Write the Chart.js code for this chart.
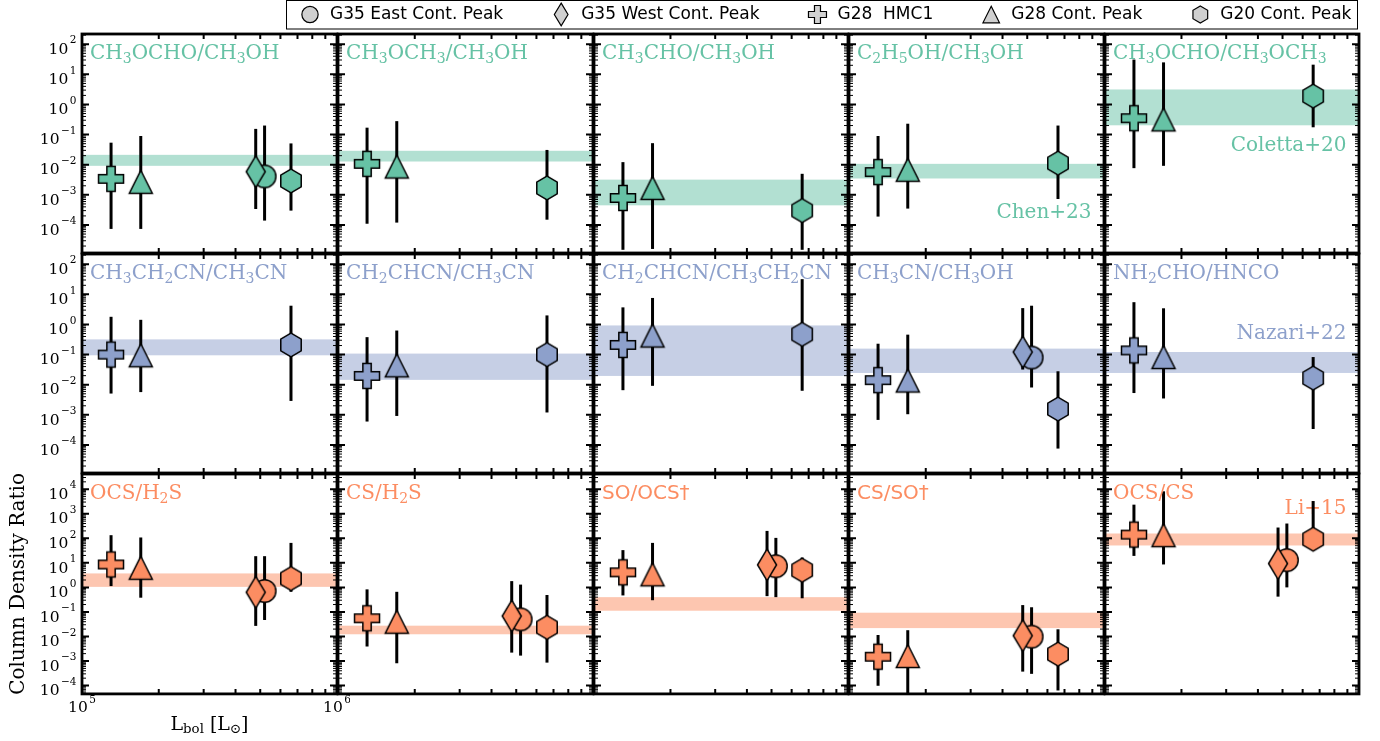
<!DOCTYPE html>
<html>
<head>
<meta charset="utf-8">
<script src="https://cdn.jsdelivr.net/npm/chart.js@4.4.0/dist/chart.umd.min.js"></script>
<style>
  html, body { margin: 0; padding: 0; background: #fff; }
  #fig { position: relative; width: 1380px; height: 741px; overflow: hidden; background: #fff; }
  #fig canvas { position: absolute; }
</style>
</head>
<body>
<div id="fig"></div>
<script>
// ---------------- data ----------------
const sources = ['G35 East Cont. Peak', 'G35 West Cont. Peak', 'G28  HMC1', 'G28 Cont. Peak', 'G20 Cont. Peak'];
const sourceMarkers = ['circle', 'diamond', 'plus', 'triangle', 'hexagon'];
const lbol = [5.2e5, 4.8e5, 1.3e5, 1.7e5, 6.6e5];   // L_bol [L_sun] of each source

const ratioTitles = [
  'CH_3OCHO/CH_3OH', 'CH_3OCH_3/CH_3OH', 'CH_3CHO/CH_3OH', 'C_2H_5OH/CH_3OH', 'CH_3OCHO/CH_3OCH_3',
  'CH_3CH_2CN/CH_3CN', 'CH_2CHCN/CH_3CN', 'CH_2CHCN/CH_3CH_2CN', 'CH_3CN/CH_3OH', 'NH_2CHO/HNCO',
  'OCS/H_2S', 'CS/H_2S', 'SO/OCS\u2020', 'CS/SO\u2020', 'OCS/CS'
];

// column density ratios, one row per ratio, columns follow `sources`
const ratioValue = [
  [4.1e-3, 5.9e-3, 3.4e-3, 2.7e-3, 2.9e-3],
  [null, null, 1.07e-2, 8.7e-3, 1.7e-3],
  [null, null, 7.9e-4, 1.7e-3, 3.0e-4],
  [null, null, 5.7e-3, 6.8e-3, 1.13e-2],
  [null, null, 0.35, 0.32, 1.9],
  [null, null, 0.10, 0.095, 0.21],
  [null, null, 0.0196, 0.044, 0.10],
  [null, null, 0.21, 0.43, 0.47],
  [0.080, 0.122, 0.0142, 0.0138, 1.56e-3],
  [null, null, 0.138, 0.083, 0.0166],
  [0.71, 0.63, 8.6, 6.3, 2.3],
  [0.050, 0.068, 0.055, 0.040, 0.0236],
  [7.3, 8.3, 4.1, 3.4, 5.0],
  [9.8e-3, 0.0108, 1.5e-3, 1.6e-3, 1.9e-3],
  [12.9, 9.4, 142, 134, 92]
];
const ratioLow = [
  [1.4e-4, 3.4e-4, 7.4e-5, 7.4e-5, 3.0e-4],
  [null, null, 1.1e-4, 1.2e-4, 1.5e-4],
  [null, null, 1.5e-5, 1.6e-5, 1.5e-5],
  [null, null, 1.9e-4, 3.5e-4, 7.3e-4],
  [null, null, 7.7e-3, 9.2e-3, 0.175],
  [null, null, 5.1e-3, 5.7e-3, 2.9e-3],
  [null, null, 6.0e-4, 9.2e-4, 1.2e-3],
  [null, null, 6.6e-3, 9.2e-3, 6.3e-3],
  [8.1e-3, 0.032, 6.8e-4, 1.05e-3, 7.6e-5],
  [null, null, 5.3e-3, 3.5e-3, 3.4e-4],
  [0.047, 0.027, 1.13, 0.38, 0.66],
  [1.66e-3, 2.2e-3, 3.9e-3, 8.1e-4, 8.6e-4],
  [0.40, 0.44, 0.47, 0.30, 0.36],
  [3.0e-4, 3.7e-4, 9.8e-5, 3.0e-5, 6.3e-5],
  [1.0, 0.42, 19.2, 8.6, 45]
];
const ratioHigh = [
  [0.20, 0.155, 0.054, 0.090, 0.051],
  [null, null, 0.17, 0.28, 0.031],
  [null, null, 0.0122, 0.052, 5.0e-3],
  [null, null, 0.090, 0.23, 0.20],
  [null, null, 31, 25, 21],
  [null, null, 1.8, 1.43, 4.2],
  [null, null, 0.38, 0.63, 2.0],
  [null, null, 3.7, 7.6, 32],
  [4.2, 3.5, 0.23, 0.46, 0.028],
  [null, null, 5.5, 3.45, 0.083],
  [18.7, 18.7, 134, 108, 65],
  [1.3, 1.8, 0.83, 0.66, 0.49],
  [104, 200, 33, 65, 16.5],
  [0.155, 0.19, 0.0115, 0.018, 0.0196],
  [400, 275, 2350, 8200, 3300]
];

// literature ranges shown as horizontal bands
const bandLow  = [9.2e-3, 0.0128, 4.5e-4, 3.5e-3, 0.204, 0.095, 0.0145, 0.0196, 0.0246, 0.0246, 1.05, 0.0123, 0.112, 0.022, 51];
const bandHigh = [0.0213, 0.029, 3.2e-3, 0.0107, 3.15, 0.32, 0.108, 0.93, 0.158, 0.122, 3.7, 0.0275, 0.40, 0.093, 157];

const refLabels = ['Chen+23', 'Coletta+20', 'Nazari+22', 'Li+15'];
const refPanels = [3, 4, 9, 14];

const yTickExpComs = [2, 1, 0, -1, -2, -3, -4];
const yTickExpSulphur = [4, 3, 2, 1, 0, -1, -2, -3, -4];
const xTickExps = [5, 6];
const xMinorMultipliers = [2, 3, 4, 5, 6, 7, 8, 9];

// ---------------- styling / layout ----------------
const rowColours = ['#66c2a5', '#8da0cb', '#fc8d62'];
const rowBands = ['rgba(102,194,165,0.5)', 'rgba(141,160,203,0.5)', 'rgba(252,141,98,0.5)'];
const rowLogLimits = [[-4.93, 2.34], [-4.93, 2.34], [-4.34, 4.62]];
const titleSans = [false, false, false, false, false, false, false, false, false, false, false, false, true, true, false];
const refBaselineOffset = [184, 117, 85, 40];
const drawOrder = [1, 0, 2, 3, 4];   // lower numbers drawn on top

const GRID = { x0: 82, y0: 33.3, w: 255.6, h: 220.2 };
const SERIF = '"DejaVu Serif", serif';
const SANS = '"DejaVu Sans", sans-serif';

// ---------------- marker shapes ----------------
function markerPath(g, kind, s) {
  g.beginPath();
  if (kind === 'circle') {
    g.arc(0, 0, 11.3 * s, 0, Math.PI * 2);
  } else if (kind === 'diamond') {
    const hw = 9.5 * s, hh = 15.8 * s;
    g.moveTo(0, -hh); g.lineTo(hw, 0); g.lineTo(0, hh); g.lineTo(-hw, 0);
  } else if (kind === 'plus') {
    const a = 12.5 * s, b = a / 3;
    const pts = [[-b, -a], [b, -a], [b, -b], [a, -b], [a, b], [b, b], [b, a], [-b, a], [-b, b], [-a, b], [-a, -b], [-b, -b]];
    pts.forEach((p, i) => i ? g.lineTo(p[0], p[1]) : g.moveTo(p[0], p[1]));
  } else if (kind === 'triangle') {
    const r = 11.5 * s;
    g.moveTo(0, -r); g.lineTo(r, r); g.lineTo(-r, r);
  } else if (kind === 'hexagon') {
    const R = 11.8 * s;
    for (let i = 0; i < 6; i++) {
      const a = (-90 + 60 * i) * Math.PI / 180;
      i ? g.lineTo(R * Math.cos(a), R * Math.sin(a)) : g.moveTo(R * Math.cos(a), R * Math.sin(a));
    }
  }
  g.closePath();
}
function paintMarker(g, kind, fill, s, lw) {
  markerPath(g, kind, s);
  g.fillStyle = fill; g.fill();
  g.lineWidth = lw; g.strokeStyle = '#000'; g.lineJoin = 'miter'; g.stroke();
}
const markerCache = {};
function markerImage(kind, fill) {
  const key = kind + fill;
  if (!markerCache[key]) {
    const c = document.createElement('canvas');
    c.width = 48; c.height = 48;
    const g = c.getContext('2d');
    g.translate(24, 24);
    paintMarker(g, kind, fill, 1, 1.5);
    markerCache[key] = c;
  }
  return markerCache[key];
}

// ---------------- text helpers ----------------
function parseRich(str) {
  const segs = []; let buf = '', i = 0;
  while (i < str.length) {
    if (str[i] === '_') {
      if (buf) { segs.push({ t: buf, sub: false }); buf = ''; }
      let t;
      if (str[i + 1] === '{') { const j = str.indexOf('}', i); t = str.slice(i + 2, j); i = j + 1; }
      else { t = str[i + 1]; i += 2; }
      segs.push({ t, sub: true });
    } else { buf += str[i]; i++; }
  }
  if (buf) segs.push({ t: buf, sub: false });
  return segs;
}
function drawRich(g, str, x, y, size, family, align) {
  const segs = parseRich(str);
  const subSize = size * 0.7;
  let total = 0;
  segs.forEach(sg => {
    g.font = (sg.sub ? subSize : size) + 'px ' + family;
    sg.w = g.measureText(sg.t).width;
    total += sg.w;
  });
  let cx = align === 'center' ? x - total / 2 : (align === 'right' ? x - total : x);
  g.textAlign = 'left'; g.textBaseline = 'alphabetic';
  segs.forEach(sg => {
    g.font = (sg.sub ? subSize : size) + 'px ' + family;
    g.fillText(sg.t, cx, sg.sub ? y + 3.5 : y);
    cx += sg.w;
  });
}
function drawPow(g, exp, x, baseline, align, raise) {
  const baseFont = '15.5px ' + SERIF, supFont = '10.5px ' + SERIF;
  const es = exp < 0 ? '\u2212' + (-exp) : String(exp);
  g.font = baseFont; const wb = g.measureText('10').width;
  g.font = supFont; const we = g.measureText(es).width;
  const total = wb + 1.5 + we;
  const x0 = align === 'right' ? x - total : x - total / 2;
  g.fillStyle = '#000'; g.textAlign = 'left'; g.textBaseline = 'alphabetic';
  g.font = baseFont; g.fillText('10', x0, baseline);
  g.font = supFont; g.fillText(es, x0 + wb + 1.5, baseline - raise);
}

// ---------------- per-panel drawing plugin ----------------
const panelDecor = {
  id: 'panelDecor',
  beforeDatasetsDraw(chart) {
    const p = chart.options.plugins.panelDecor.panel;
    const row = Math.floor(p / 5);
    const g = chart.ctx, ca = chart.chartArea;
    const xs = chart.scales.x, ys = chart.scales.y;
    g.save();
    g.beginPath(); g.rect(ca.left, ca.top, ca.right - ca.left, ca.bottom - ca.top); g.clip();
    // literature band
    const yb1 = ys.getPixelForValue(bandHigh[p]), yb2 = ys.getPixelForValue(bandLow[p]);
    g.fillStyle = rowBands[row];
    g.fillRect(ca.left, yb1, ca.right - ca.left, yb2 - yb1);
    // reference label
    const ri = refPanels.indexOf(p);
    if (ri >= 0) {
      g.fillStyle = rowColours[row];
      g.font = '20px ' + SERIF; g.textAlign = 'right'; g.textBaseline = 'alphabetic';
      g.fillText(refLabels[ri], ca.right - 12.5, ca.top + refBaselineOffset[ri]);
    }
    // error bars
    g.strokeStyle = '#000'; g.lineWidth = 3; g.lineCap = 'butt';
    for (let s = 0; s < sources.length; s++) {
      if (ratioValue[p][s] == null) continue;
      const x = xs.getPixelForValue(lbol[s]);
      g.beginPath();
      g.moveTo(x, ys.getPixelForValue(ratioLow[p][s]));
      g.lineTo(x, ys.getPixelForValue(ratioHigh[p][s]));
      g.stroke();
    }
    g.restore();
  },
  afterDraw(chart) {
    const p = chart.options.plugins.panelDecor.panel;
    const row = Math.floor(p / 5), col = p % 5;
    const g = chart.ctx, ca = chart.chartArea;
    const xs = chart.scales.x, ys = chart.scales.y;
    g.save();
    // title
    g.fillStyle = rowColours[row];
    drawRich(g, ratioTitles[p], ca.left + 8, ca.top + 25, 20, titleSans[p] ? SANS : SERIF, 'left');
    // ticks
    g.strokeStyle = '#000'; g.lineCap = 'butt';
    const [lo, hi] = rowLogLimits[row];
    for (let k = Math.floor(lo); k <= Math.ceil(hi); k++) {
      const major = Math.pow(10, k);
      if (k >= lo && k <= hi) {
        const py = ys.getPixelForValue(major);
        g.lineWidth = 2;
        g.beginPath();
        g.moveTo(ca.left, py); g.lineTo(ca.left + 7, py);
        g.moveTo(ca.right, py); g.lineTo(ca.right - 7, py);
        g.stroke();
      }
      g.lineWidth = 1;
      for (const m of xMinorMultipliers) {
        const v = m * major, lv = Math.log10(v);
        if (lv < lo || lv > hi) continue;
        const py = ys.getPixelForValue(v);
        g.beginPath();
        g.moveTo(ca.left, py); g.lineTo(ca.left + 4, py);
        g.moveTo(ca.right, py); g.lineTo(ca.right - 4, py);
        g.stroke();
      }
    }
    g.lineWidth = 2;
    for (const m of xMinorMultipliers) {
      const px = xs.getPixelForValue(m * 1e5);
      g.beginPath();
      g.moveTo(px, ca.bottom); g.lineTo(px, ca.bottom - 5);
      g.moveTo(px, ca.top); g.lineTo(px, ca.top + 5);
      g.stroke();
    }
    // frame
    g.lineWidth = 2.8; g.lineJoin = 'miter';
    g.strokeRect(ca.left, ca.top, ca.right - ca.left, ca.bottom - ca.top);
    // tick labels and axis titles on the outer panels
    if (col === 0) {
      const exps = row === 2 ? yTickExpSulphur : yTickExpComs;
      exps.forEach(e => drawPow(g, e, ca.left - 5.5, ys.getPixelForValue(Math.pow(10, e)) + 9.7, 'right', 10.5));
    }
    if (col === 0 && row === 2) {
      xTickExps.forEach(e => drawPow(g, e, xs.getPixelForValue(Math.pow(10, e)), ca.bottom + 18.5, 'center', 9));
      g.fillStyle = '#000';
      drawRich(g, 'L_{bol} [L_\u2299]', (ca.left + ca.right) / 2, ca.bottom + 36, 19, SERIF, 'center');
      g.save();
      g.translate(23.5, (ca.top + ca.bottom) / 2);
      g.rotate(-Math.PI / 2);
      g.font = '20px ' + SERIF; g.textAlign = 'center'; g.textBaseline = 'alphabetic';
      g.fillText('Column Density Ratio', 0, 0);
      g.restore();
    }
    g.restore();
  }
};

// ---------------- build the 3 x 5 grid ----------------
const fig = document.getElementById('fig');
for (let p = 0; p < ratioTitles.length; p++) {
  const row = Math.floor(p / 5), col = p % 5;
  const left = GRID.x0 + col * GRID.w, top = GRID.y0 + row * GRID.h;
  const right = left + GRID.w, bottom = top + GRID.h;
  const cvX = col === 0 ? 0 : Math.floor(left - 12);
  const cvY = Math.floor(top - 12);
  const cvR = Math.ceil(right + 12);
  const cvB = row === 2 ? 741 : Math.ceil(bottom + 12);
  const cv = document.createElement('canvas');
  cv.width = cvR - cvX; cv.height = cvB - cvY;
  cv.style.left = cvX + 'px'; cv.style.top = cvY + 'px';
  cv.style.width = cv.width + 'px'; cv.style.height = cv.height + 'px';
  fig.appendChild(cv);

  const datasets = [];
  for (let s = 0; s < sources.length; s++) {
    if (ratioValue[p][s] == null) continue;
    datasets.push({
      label: sources[s],
      data: [{ x: lbol[s], y: ratioValue[p][s] }],
      pointStyle: markerImage(sourceMarkers[s], rowColours[row]),
      pointRadius: 12,
      order: drawOrder[s]
    });
  }
  const [lo, hi] = rowLogLimits[row];
  new Chart(cv, {
    type: 'scatter',
    data: { datasets },
    options: {
      responsive: false,
      animation: false,
      devicePixelRatio: 1,
      events: [],
      layout: {
        padding: {
          left: left - cvX, top: top - cvY,
          right: cvR - right, bottom: cvB - bottom
        }
      },
      scales: {
        x: { type: 'logarithmic', min: 1e5, max: 1e6, display: false },
        y: { type: 'logarithmic', min: Math.pow(10, lo), max: Math.pow(10, hi), display: false }
      },
      plugins: {
        legend: { display: false },
        tooltip: { enabled: false },
        panelDecor: { panel: p }
      }
    },
    plugins: [panelDecor]
  });
}

// ---------------- legend ----------------
(function drawLegend() {
  const cv = document.createElement('canvas');
  cv.width = 1380; cv.height = 40;
  cv.style.left = '0px'; cv.style.top = '0px'; cv.style.zIndex = 5;
  fig.appendChild(cv);
  const g = cv.getContext('2d');
  g.font = '17px ' + SANS;
  const items = [];
  let x = 310;
  sources.forEach(name => {
    const w = g.measureText(name).width;
    items.push({ mx: x, tx: x + 20, w });
    x += 20 + w + 58;
  });
  const last = items[items.length - 1];
  const boxL = 286, boxR = Math.round(last.tx + last.w + 6);
  g.fillStyle = '#fff';
  g.fillRect(boxL, 0, boxR - boxL, 29);
  g.strokeStyle = '#000'; g.lineWidth = 1;
  g.strokeRect(boxL + 0.5, 0.5, boxR - boxL, 28.5);
  items.forEach((it, s) => {
    g.save();
    g.translate(it.mx, 14.5);
    paintMarker(g, sourceMarkers[s], '#d0d0d0', 0.72, 1.2);
    g.restore();
    g.fillStyle = '#000'; g.font = '17px ' + SANS;
    g.textAlign = 'left'; g.textBaseline = 'middle';
    g.fillText(sources[s], it.tx, 15);
  });
})();
</script>
</body>
</html>
